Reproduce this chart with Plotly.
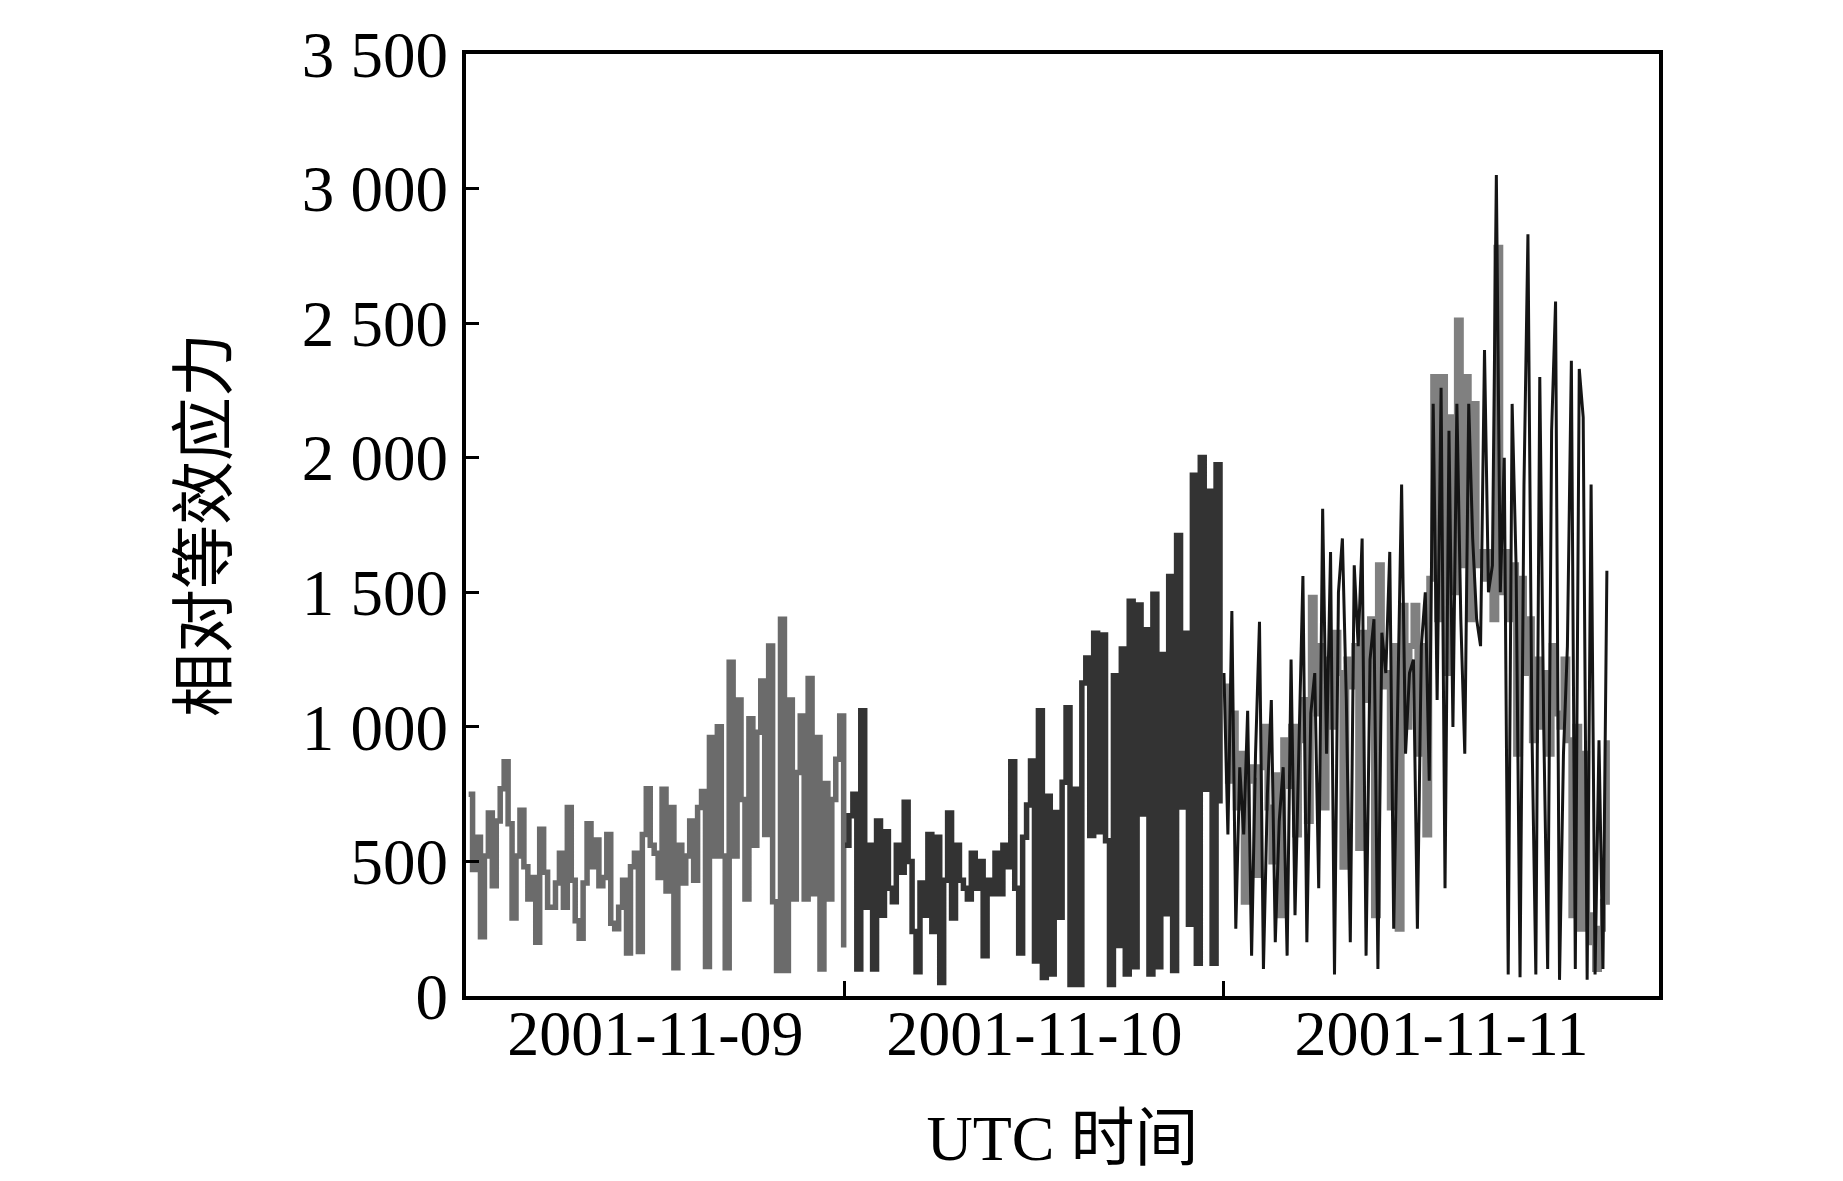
import pandas as pd
import plotly.graph_objects as go

# ---------------- data ----------------
day_labels = ["2001-11-09", "2001-11-10", "2001-11-11"]
x_axis_start = "2001-11-09 00:00"
x_axis_end = "2001-11-12 03:33"
y_ticks = [0, 500, 1000, 1500, 2000, 2500, 3000, 3500]

# 15-minute samples, 2001-11-09
day1_start = "2001-11-09 00:10"
day1_values = [
    750, 470, 590, 220, 520, 680, 410, 650, 770, 870, 640, 290, 520, 690, 480, 360,
    440, 200, 620, 460, 330, 330, 420, 530, 330, 700, 430, 280, 215, 420, 640, 480,
    580, 410, 440, 600, 270, 250, 330, 430, 160, 480, 530, 165, 600, 770, 560, 530,
    440, 768, 390, 700, 105, 560, 420, 520, 650, 430, 700, 760, 110, 960, 520, 1000,
    520, 105, 1240, 520, 1100, 730, 360, 1030, 560, 980, 1170, 600, 1300, 350, 95, 1400,
    95, 1100, 360, 830, 1040, 360, 1180, 380, 960, 100, 790, 360, 730, 880, 1040, 180,
]

# 15-minute samples, 2001-11-10
day2_start = "2001-11-10 00:00"
day2_values = [
    560, 670, 750, 100, 1060, 330, 560, 100, 650, 300, 610, 400, 350, 560, 460, 720,
    500, 240, 90, 420, 300, 600, 240, 590, 50, 430, 680, 290, 560, 430, 400, 360,
    530, 400, 500, 150, 430, 380, 530, 380, 560, 480, 870, 400, 160, 590, 710, 873,
    130, 1060, 69, 742, 82, 682, 293, 794, 1071, 43, 768, 43, 1163, 1256, 596, 1348,
    610, 1341, 577, 43, 1190, 188, 1289, 82, 1467, 109, 1453, 676, 1361, 82, 1493, 109,
    1269, 306, 1559, 95, 1711, 702, 1348, 267, 1935, 122, 2001, 768, 1875, 122, 1974, 715,
]

# 15-minute samples, 2001-11-11 (grey record and black record)
day3_start = "2001-11-11 00:00"
day3_grey_values = [
    1150, 800, 1050, 700, 900, 350, 850, 800, 450, 850, 1000, 700, 500, 820, 300, 950,
    780, 1000, 600, 950, 1100, 650, 1480, 1050, 1300, 700, 1250, 1000, 1350, 1200, 480, 1250,
    1150, 1300, 550, 1350, 1100, 1400, 300, 1600, 1150, 1200, 700, 1300, 250, 1450, 1000, 1300,
    1450, 900, 1300, 600, 1550, 2300, 1400, 2300, 1200, 2150, 1500, 2510, 1600, 2300, 1400, 2200,
    1600, 1650, 1550, 1650, 1400, 2780, 1500, 1650, 1400, 1600, 900, 1550, 1200, 1400, 950, 1250,
    1000, 1200, 900, 1300, 1050, 1000, 1250, 950, 300, 1000, 250, 900, 300, 200, 100, 250,
    350, 950,
]
day3_black_values = [
    1200, 600, 1430, 250, 850, 600, 1060, 150, 900, 1390, 100, 750, 1100, 200, 650, 850,
    150, 1250, 300, 950, 1560, 200, 1050, 1200, 400, 1810, 900, 1650, 80, 1500, 1700, 1100,
    200, 1600, 1300, 1700, 150, 1250, 1400, 100, 1350, 1200, 1650, 250, 1150, 1900, 900, 1200,
    1250, 250, 1300, 1500, 800, 2200, 1100, 2260, 400, 2100, 1000, 2200, 1400, 900, 2200, 1700,
    1400, 1300, 2400, 1500, 1600, 3050, 1500, 2000, 80, 2200, 1600, 70, 1900, 2830, 1000, 80,
    2300, 1000, 100, 2100, 2580, 60, 900, 1300, 2360, 100, 2330, 2150, 60, 1900, 80, 950,
    100, 1580,
]

# ---------------- figure ----------------
SERIF = "Liberation Serif, Times New Roman, Noto Sans CJK SC, serif"

t1 = pd.date_range(day1_start, periods=len(day1_values), freq="15min")
t2 = pd.date_range(day2_start, periods=len(day2_values), freq="15min")
t3 = pd.date_range(day3_start, periods=len(day3_grey_values), freq="15min")

fig = go.Figure()
fig.add_trace(go.Scatter(x=t1, y=day1_values, mode="lines",
                         line=dict(color="#6b6b6b", width=5.5, shape="hv"),
                         hoverinfo="skip"))
fig.add_trace(go.Scatter(x=t2, y=day2_values, mode="lines",
                         line=dict(color="#333333", width=5.5, shape="hv"),
                         hoverinfo="skip"))
fig.add_trace(go.Scatter(x=t3, y=day3_grey_values, mode="lines",
                         line=dict(color="#808080", width=6, shape="hv"),
                         hoverinfo="skip"))
fig.add_trace(go.Scatter(x=t3, y=day3_black_values, mode="lines",
                         line=dict(color="#151515", width=3),
                         hoverinfo="skip"))

# day labels sit in the middle of the visible part of each day
x0 = pd.Timestamp(x_axis_start)
x1 = pd.Timestamp(x_axis_end)
day_starts = [pd.Timestamp(lab) for lab in day_labels]
label_pos = []
for k, s in enumerate(day_starts):
    e = day_starts[k + 1] if k + 1 < len(day_starts) else x1
    label_pos.append(s + (e - s) / 2)
boundaries = [s for s in day_starts if s > x0]

fig.update_layout(
    width=1843, height=1181,
    margin=dict(l=458, r=192, t=46, b=193),
    paper_bgcolor="white", plot_bgcolor="white",
    showlegend=False,
    separators=". ",
    font=dict(family=SERIF, size=64, color="black"),
    xaxis=dict(
        type="date",
        range=[x0, x1],
        tickmode="array", tickvals=label_pos, ticktext=day_labels,
        ticks="", showgrid=False, zeroline=False,
        showline=True, mirror=True, linecolor="black", linewidth=4,
        tickfont=dict(family=SERIF, size=64, color="black"),
        ticklabelstandoff=-22,
        minor=dict(tickmode="array", tickvals=boundaries, ticks="inside",
                   ticklen=15, tickwidth=3, tickcolor="black", showgrid=False),
        title=dict(text="UTC 时间", font=dict(family=SERIF, size=64, color="black"),
                   standoff=48),
    ),
    yaxis=dict(
        range=[0, 3500],
        tickmode="array", tickvals=y_ticks,
        separatethousands=True, tickformat=",d",
        ticks="inside", ticklen=13, tickwidth=3, tickcolor="black",
        showgrid=False, zeroline=False,
        showline=True, mirror=True, linecolor="black", linewidth=4,
        tickfont=dict(family=SERIF, size=65, color="black"),
        ticklabelstandoff=1,
        title=dict(text="相对等效应力", font=dict(family=SERIF, size=64, color="black"),
                   standoff=55),
    ),
)

fig.write_html("out.html")
